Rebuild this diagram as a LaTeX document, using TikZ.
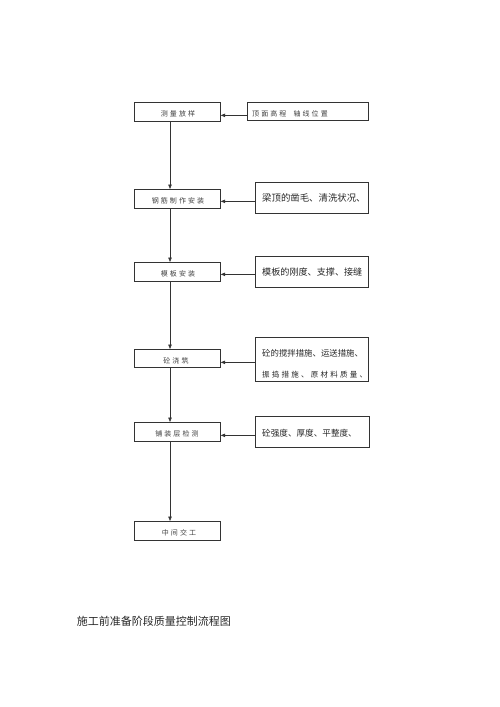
\documentclass[tikz,border=0pt]{standalone}
\usepackage{fontspec}
\setmainfont{Liberation Serif}
\newfontfamily\cjk{Noto Sans CJK SC}
\newfontfamily\cjksp[LetterSpace=30]{Noto Sans CJK SC}
\usetikzlibrary{arrows.meta}
\begin{document}
\begin{tikzpicture}[x=1pt,y=-1pt,
  box/.style={draw=black!80,line width=0.7pt,inner sep=0pt,anchor=north west},
  lt/.style={font=\cjksp\fontsize{7}{8}\selectfont,text=black!75,inner sep=0pt},
  rt/.style={font=\cjk\fontsize{9}{10}\selectfont,text=black!85,inner sep=0pt,anchor=west},
  arr/.style={draw=black!80,line width=0.7pt,-{Triangle[length=4.5pt,width=3.5pt]}}]
\useasboundingbox (0,0) rectangle (500,707);
% left column boxes
\node[box,minimum width=86pt,minimum height=19pt] (b1) at (134,102) {};
\node[box,minimum width=86pt,minimum height=19pt] (b2) at (134,189) {};
\node[box,minimum width=86pt,minimum height=19pt] (b3) at (134,262) {};
\node[box,minimum width=86pt,minimum height=18pt] (b4) at (134,349) {};
\node[box,minimum width=86pt,minimum height=19pt] (b5) at (134,422) {};
\node[box,minimum width=86pt,minimum height=19pt] (b6) at (134,521) {};
\node[lt] (t1) at (178,114) {测量放样};
\node[lt] (t2) at (178,201) {钢筋制作安装};
\node[lt] (t3) at (178,274) {模板安装};
\node[lt] (t4) at (176,361) {砼浇筑};
\node[lt] (t5) at (177,434) {铺装层检测};
\node[lt] (t6) at (179,533) {中间交工};
% right column boxes
\node[box,minimum width=121pt,minimum height=18pt] (r1) at (247,102) {};
\node[box,minimum width=113pt,minimum height=31pt] (r2) at (255,182) {};
\node[box,minimum width=113pt,minimum height=31pt] (r3) at (255,256) {};
\node[box,minimum width=113pt,minimum height=44pt] (r4) at (255,337) {};
\node[box,minimum width=114pt,minimum height=31pt] (r5) at (255,416) {};
\node[lt,anchor=west] (s1) at (252,114) {顶面高程\hspace{7pt}轴线位置};
\node[rt,font=\cjk\fontsize{9.4}{10}\selectfont] (s2) at (262,198) {梁顶的凿毛、清洗状况、};
\node[rt,font=\cjk\fontsize{9.1}{10}\selectfont] (s3) at (262,272) {模板的刚度、支撑、接缝};
\node[rt,font=\cjk\fontsize{8.4}{10}\selectfont] (s4a) at (262,353) {砼的搅拌措施、运送措施、};
\node[rt,font=\cjksp\fontsize{7.5}{10}\selectfont] (s4b) at (262,375) {振捣措施、原材料质量、};
\node[rt,font=\cjk\fontsize{8.6}{10}\selectfont] (s5) at (262,433) {砼强度、厚度、平整度、};
% vertical connectors
\draw[arr] (b1.south -| 170,0) -- (b2.north -| 170,0);
\draw[arr] (b2.south -| 170,0) -- (b3.north -| 170,0);
\draw[arr] (b3.south -| 170,0) -- (b4.north -| 170,0);
\draw[arr] (b4.south -| 170,0) -- (b5.north -| 170,0);
\draw[arr] (b5.south -| 170,0) -- (b6.north -| 170,0);
% horizontal connectors
\coordinate (a1) at ([yshift=-3.5pt]b1.east);
\coordinate (a2) at ([yshift=-2.5pt]b2.east);
\coordinate (a3) at ([yshift=-2.5pt]b3.east);
\coordinate (a4) at ([yshift=-4pt]b4.east);
\coordinate (a5) at ([yshift=-3.5pt]b5.east);
\draw[arr] (r1.west |- a1) -- (a1);
\draw[arr] (r2.west |- a2) -- (a2);
\draw[arr] (r3.west |- a3) -- (a3);
\draw[arr] (r4.west |- a4) -- (a4);
\draw[arr] (r5.west |- a5) -- (a5);
% title
\node[font=\cjk\fontsize{11}{12}\selectfont,text=black!85,inner sep=0pt,anchor=east] (title) at (231,621) {施工前准备阶段质量控制流程图};
\end{tikzpicture}
\end{document}
